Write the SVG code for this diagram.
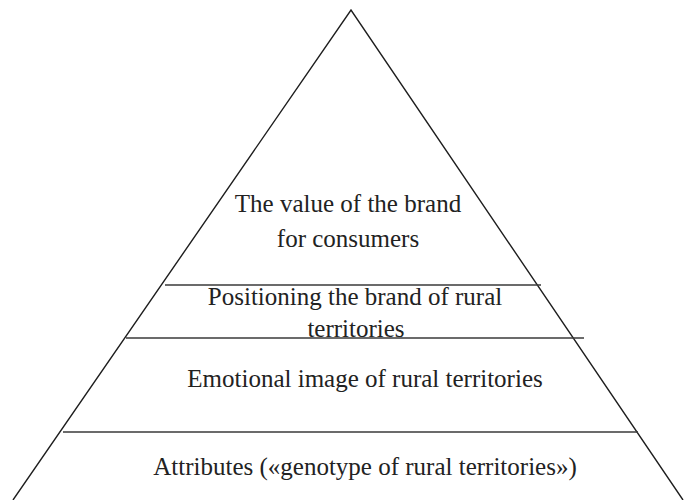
<svg xmlns="http://www.w3.org/2000/svg" width="684" height="500" viewBox="0 0 684 500">
<style>
.edge{fill:none;stroke:#1e1e1e;stroke-width:1.4}
.div{stroke:#3a3a3a;stroke-width:1.4}
.t{font-family:"Liberation Serif","Times New Roman",serif;font-size:25px;fill:#222;text-anchor:middle}
</style>
<rect width="684" height="500" fill="#fff"/>
<g id="pyramid">
<polyline class="edge" points="13,500 351,10 683,500"/>
</g>
<g id="connectors">
<line class="div" x1="165" y1="285" x2="541" y2="285"/>
<line class="div" x1="126" y1="338" x2="584" y2="338"/>
<line class="div" x1="63" y1="432" x2="638" y2="432"/>
</g>
<g id="value">
<text class="t" x="348" y="212">The value of the brand</text>
<text class="t" x="348" y="247">for consumers</text>
</g>
<g id="positioning">
<text class="t" x="355" y="305">Positioning the brand of rural</text>
<text class="t" x="356" y="337">territories</text>
</g>
<g id="emotional">
<text class="t" x="365" y="387">Emotional image of rural territories</text>
</g>
<g id="attributes">
<text class="t" x="365" y="475">Attributes («genotype of rural territories»)</text>
</g>
</svg>
